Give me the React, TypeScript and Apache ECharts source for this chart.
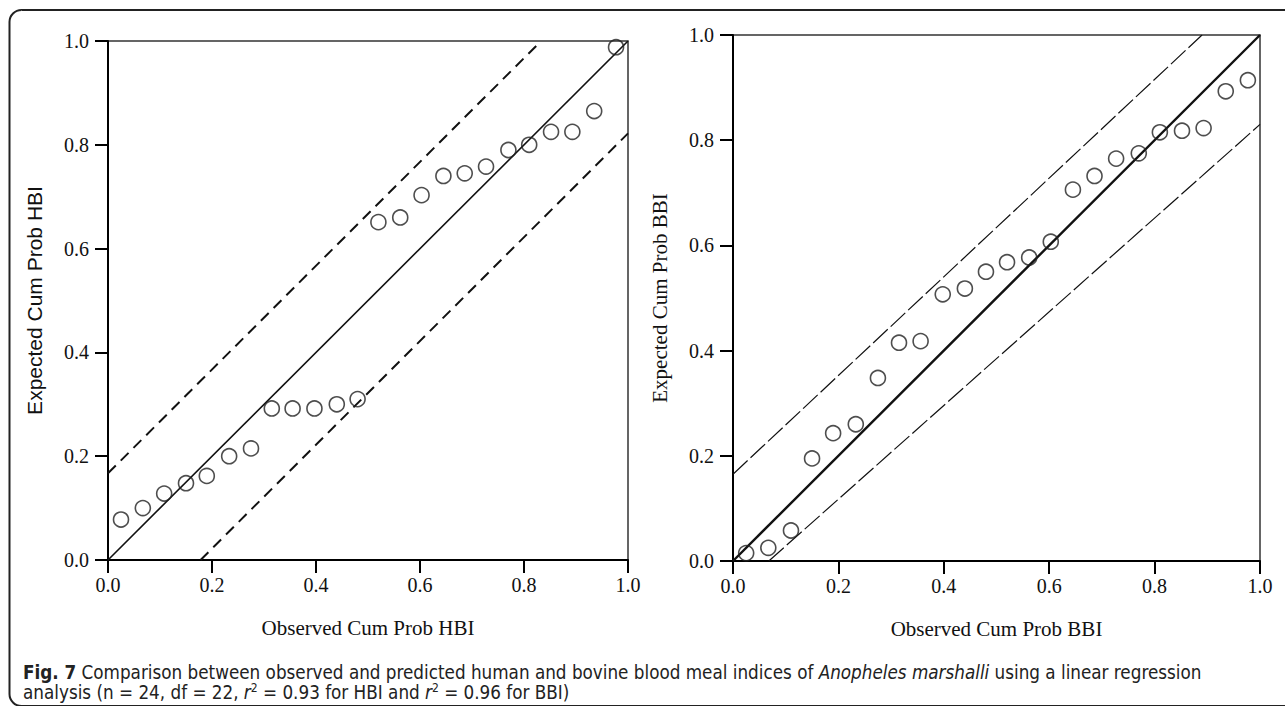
import React, { useEffect, useRef } from "react";
import * as echarts from "echarts";

const obsHBI = [0.025, 0.067, 0.108, 0.15, 0.19, 0.233, 0.275, 0.315, 0.355, 0.397, 0.44, 0.48, 0.52, 0.562, 0.603, 0.645, 0.686, 0.727, 0.77, 0.81, 0.852, 0.893, 0.935, 0.977];
const expHBI = [0.078, 0.1, 0.128, 0.148, 0.162, 0.2, 0.215, 0.292, 0.292, 0.292, 0.3, 0.31, 0.651, 0.66, 0.703, 0.74, 0.745, 0.758, 0.79, 0.8, 0.825, 0.825, 0.865, 0.988];

const obsBBI = [0.025, 0.067, 0.11, 0.15, 0.19, 0.233, 0.275, 0.315, 0.356, 0.398, 0.44, 0.48, 0.52, 0.562, 0.603, 0.645, 0.686, 0.727, 0.77, 0.81, 0.852, 0.893, 0.935, 0.977];
const expBBI = [0.015, 0.025, 0.058, 0.195, 0.243, 0.26, 0.348, 0.415, 0.418, 0.507, 0.518, 0.55, 0.568, 0.577, 0.607, 0.706, 0.732, 0.765, 0.775, 0.815, 0.818, 0.823, 0.893, 0.914];

const identity = [[0, 0], [1, 1]];
const upperHBI = [[0, 0.167], [0.833, 1]];
const lowerHBI = [[0.178, 0], [1, 0.822]];
const upperBBI = [[0, 0.165], [0.89, 1]];
const lowerBBI = [[0.068, 0], [1, 0.83]];

const xNames = ["Observed Cum Prob HBI", "Observed Cum Prob BBI"];
const yNames = ["Expected Cum Prob HBI", "Expected Cum Prob BBI"];

const SERIF = "'Liberation Serif', 'Times New Roman', serif";
const SANS = "'Liberation Sans', Arial, sans-serif";
const CAP = "'Liberation Sans Narrow', 'DejaVu Sans Condensed', 'Noto Sans', sans-serif";

export default function App() {
  const ref = useRef<HTMLDivElement>(null);
  useEffect(() => {
    if (!ref.current) return;
    const chart = echarts.init(ref.current, undefined, { renderer: "svg" });
    const mkX = (i: number) => ({
      type: "value",
      gridIndex: i,
      min: 0,
      max: 1,
      interval: 0.2,
      name: xNames[i],
      nameLocation: "middle",
      nameGap: 57,
      nameTextStyle: { fontFamily: SERIF, fontSize: 21, color: "#111" },
      axisLine: { show: true, onZero: false, lineStyle: { color: "#000", width: 2 } },
      axisTick: { show: true, inside: false, length: 13, lineStyle: { color: "#000", width: 2 } },
      axisLabel: { margin: 15, fontFamily: SERIF, fontSize: 20, color: "#111", formatter: (v: number) => v.toFixed(1) },
      splitLine: { show: false },
    });
    const mkY = (i: number) => ({
      type: "value",
      gridIndex: i,
      min: 0,
      max: 1,
      interval: 0.2,
      name: yNames[i],
      nameLocation: "middle",
      nameRotate: 90,
      nameGap: 63,
      nameTextStyle: { fontFamily: i === 0 ? SANS : SERIF, fontSize: 21, color: "#111" },
      axisLine: { show: true, onZero: false, lineStyle: { color: "#000", width: 2 } },
      axisTick: { show: true, inside: false, length: 13, lineStyle: { color: "#000", width: 2 } },
      axisLabel: { margin: 19, fontFamily: SERIF, fontSize: 20, color: "#111", formatter: (v: number) => v.toFixed(1) },
      splitLine: { show: false },
    });
    const lineS = (i: number, data: number[][], type: any, width: number) => ({
      type: "line",
      xAxisIndex: i,
      yAxisIndex: i,
      data,
      showSymbol: false,
      symbol: "none",
      silent: true,
      lineStyle: { color: "#111", width, type },
      z: 2,
    });
    const scat = (i: number, xs: number[], ys: number[]) => ({
      type: "scatter",
      xAxisIndex: i,
      yAxisIndex: i,
      data: xs.map((x, k) => [x, ys[k]]),
      symbol: "circle",
      symbolSize: 15,
      itemStyle: { color: "rgba(0,0,0,0)", borderColor: "#222", borderWidth: 1.6 },
      z: 3,
    });
    chart.setOption({
      animation: false,
      backgroundColor: "#fff",
      grid: [
        { left: 108, top: 41, width: 520, height: 519, show: true, borderColor: "#333", borderWidth: 1.5 },
        { left: 733, top: 35, width: 527, height: 526, show: true, borderColor: "#333", borderWidth: 1.5 },
      ],
      xAxis: [mkX(0), mkX(1)],
      yAxis: [mkY(0), mkY(1)],
      series: [
        lineS(0, identity, "solid", 1.6),
        lineS(0, upperHBI, [11, 7], 2),
        lineS(0, lowerHBI, [11, 7], 2),
        scat(0, obsHBI, expHBI),
        lineS(1, identity, "solid", 2.4),
        lineS(1, upperBBI, [20, 4], 1.2),
        lineS(1, lowerBBI, [20, 4], 1.2),
        scat(1, obsBBI, expBBI),
      ],
      graphic: [
        {
          type: "rect",
          shape: { x: 9.5, y: 10, width: 1300, height: 696, r: 12 },
          style: { fill: "none", stroke: "#222", lineWidth: 2 },
          silent: true,
          z: 10,
        },
        {
          type: "text",
          x: 23,
          y: 672,
          style: {
            text: "{b|Fig. 7} Comparison between observed and predicted human and bovine blood meal indices of {i|Anopheles marshalli} using a linear regression",
            fontFamily: CAP,
            fontSize: 18.7,
            fill: "#222",
            verticalAlign: "middle",
            rich: {
              b: { fontFamily: CAP, fontSize: 18.7, fontWeight: "bold", fill: "#222" },
              i: { fontFamily: CAP, fontSize: 18.7, fontStyle: "italic", fill: "#222" },
            },
          },
          z: 10,
        },
        {
          type: "text",
          x: 23,
          y: 692,
          style: {
            text: "analysis (n = 24, df = 22, {i|r}{s|2} = 0.93 for HBI and {i|r}{s|2} = 0.96 for BBI)",
            fontFamily: CAP,
            fontSize: 18.7,
            fill: "#222",
            verticalAlign: "middle",
            rich: {
              i: { fontFamily: CAP, fontSize: 18.7, fontStyle: "italic", fill: "#222" },
              s: { fontFamily: CAP, fontSize: 12, fill: "#222", verticalAlign: "top", padding: [0, 0, 8, 0] },
            },
          },
          z: 10,
        },
      ],
    });
    return () => chart.dispose();
  }, []);
  return (
    <div
      ref={ref}
      style={{ position: "fixed", left: 0, top: 0, width: 1285, height: 706, background: "#fff" }}
    />
  );
}
